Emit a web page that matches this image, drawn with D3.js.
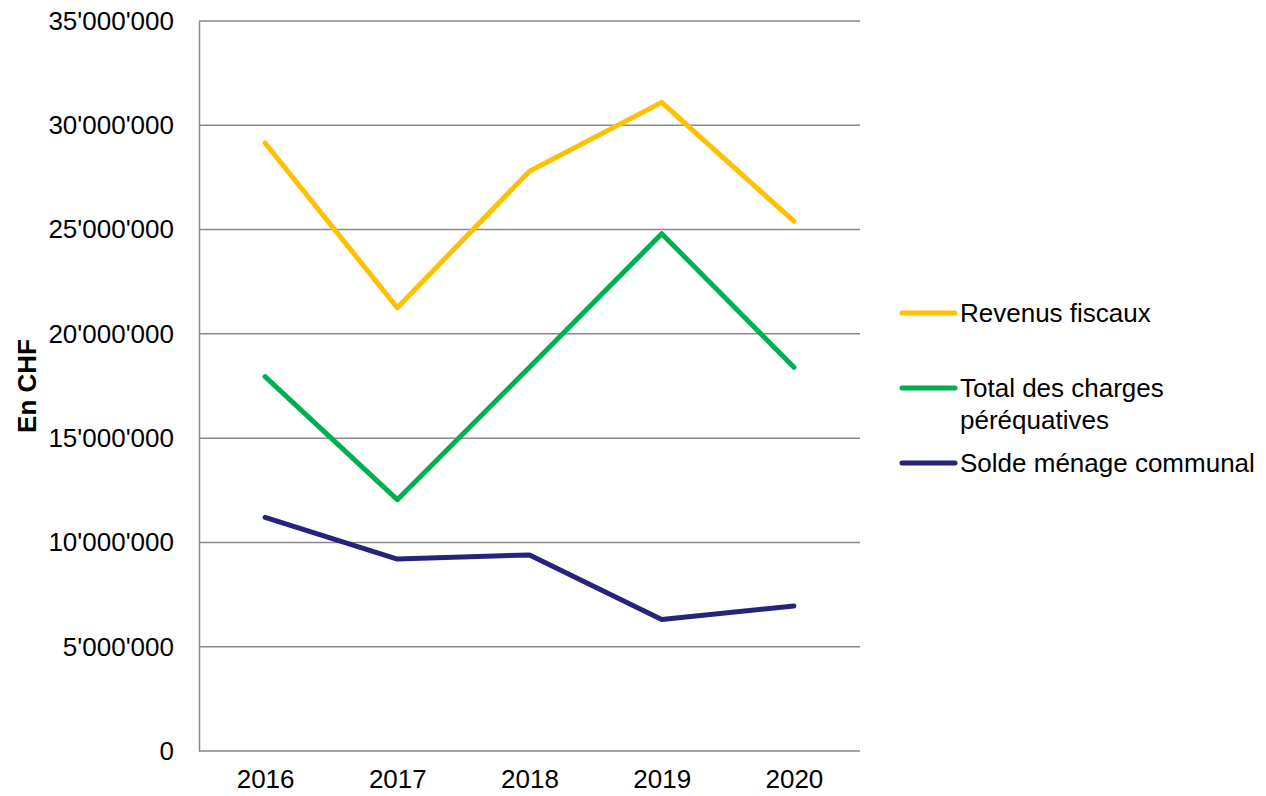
<!DOCTYPE html>
<html>
<head>
<meta charset="utf-8">
<script src="https://cdn.jsdelivr.net/npm/d3@7"></script>
<style>
  body { margin: 0; background: #fff; }
  svg { font-family: "Liberation Sans", Arial, sans-serif; }
</style>
</head>
<body>
<svg width="1266" height="796"></svg>
<script>
// Data
const years = ["2016", "2017", "2018", "2019", "2020"];
const revenusFiscaux = [29150000, 21250000, 27800000, 31100000, 25400000];
const chargesPerequatives = [17950000, 12050000, 18400000, 24800000, 18400000];
const soldeMenage = [11200000, 9200000, 9400000, 6300000, 6950000];
const yTicks = [0, 5000000, 10000000, 15000000, 20000000, 25000000, 30000000, 35000000];

const series = [
  { name: ["Revenus fiscaux"], values: revenusFiscaux, color: "#FFC000" },
  { name: ["Total des charges", "péréquatives"], values: chargesPerequatives, color: "#00B050" },
  { name: ["Solde ménage communal"], values: soldeMenage, color: "#25237B" }
];

const svg = d3.select("svg"),
      margin = { top: 21, right: 406, bottom: 45, left: 199 },
      width = 1266, height = 796,
      fontSize = 26;

const x = d3.scalePoint()
  .domain(years)
  .range([margin.left, width - margin.right])
  .padding(0.5);

const y = d3.scaleLinear()
  .domain([0, 35000000])
  .range([height - margin.bottom, margin.top]);

const fmt = v => d3.format(",")(v).replace(/,/g, "'");

// Gridlines
svg.append("g")
  .selectAll("line")
  .data(yTicks.slice(1))
  .join("line")
  .attr("x1", margin.left)
  .attr("x2", width - margin.right)
  .attr("y1", d => y(d))
  .attr("y2", d => y(d))
  .attr("stroke", "#898989")
  .attr("stroke-width", 1.5);

// Y axis
const yAxis = svg.append("g")
  .attr("transform", `translate(${margin.left},0)`)
  .call(d3.axisLeft(y).tickValues(yTicks).tickFormat(fmt).tickSize(0).tickPadding(25));
yAxis.select(".domain").attr("stroke", "#898989").attr("stroke-width", 1.5);
yAxis.selectAll("text").attr("font-size", fontSize).attr("fill", "#000").attr("font-family", "Liberation Sans, Arial, sans-serif");

// X axis
const xAxis = svg.append("g")
  .attr("transform", `translate(0,${height - margin.bottom})`)
  .call(d3.axisBottom(x).tickSize(0).tickPadding(19));
xAxis.select(".domain")
  .attr("d", `M${margin.left},0H${width - margin.right}`)
  .attr("stroke", "#898989").attr("stroke-width", 1.5);
xAxis.selectAll("text").attr("font-size", fontSize).attr("fill", "#000").attr("font-family", "Liberation Sans, Arial, sans-serif");

// Y axis title
svg.append("text")
  .attr("transform", `translate(36,${(margin.top + height - margin.bottom) / 2}) rotate(-90)`)
  .attr("text-anchor", "middle")
  .attr("font-size", fontSize)
  .attr("font-weight", "bold")
  .text("En CHF");

// Lines
const line = d3.line()
  .x((d, i) => x(years[i]))
  .y(d => y(d));

svg.append("g")
  .selectAll("path")
  .data(series)
  .join("path")
  .attr("d", d => line(d.values))
  .attr("fill", "none")
  .attr("stroke", d => d.color)
  .attr("stroke-width", 5)
  .attr("stroke-linecap", "round")
  .attr("stroke-linejoin", "round");

// Legend
const legendY = [313, 388, 463];
const legend = svg.append("g")
  .selectAll("g")
  .data(series)
  .join("g")
  .attr("transform", (d, i) => `translate(902,${legendY[i]})`);

legend.append("line")
  .attr("x1", 0).attr("x2", 53)
  .attr("stroke", d => d.color)
  .attr("stroke-width", 5)
  .attr("stroke-linecap", "round");

legend.append("text")
  .attr("font-size", fontSize)
  .selectAll("tspan")
  .data(d => d.name)
  .join("tspan")
  .attr("x", 58)
  .attr("dy", (d, i) => i === 0 ? "0.35em" : "1.22em")
  .text(d => d);
</script>
</body>
</html>
